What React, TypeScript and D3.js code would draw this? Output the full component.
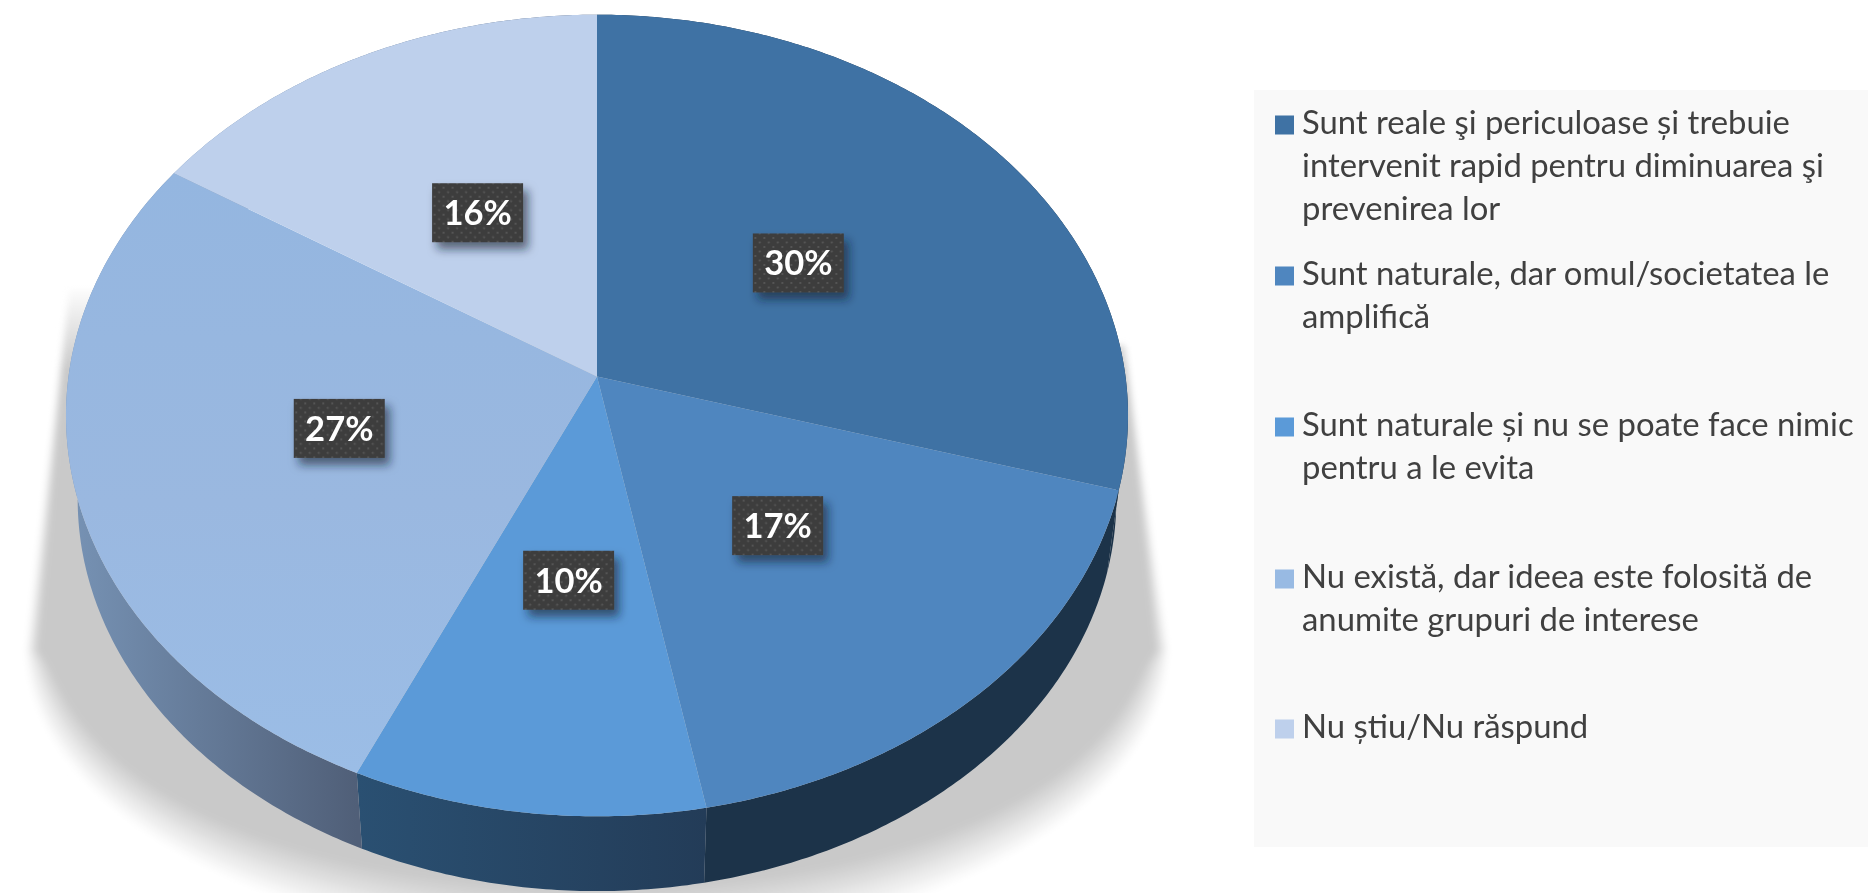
import React from "react";
import * as d3 from "d3";

const width = 1868;
const height = 893;

const categories = [
  ["Sunt reale şi periculoase și trebuie", "intervenit rapid pentru diminuarea şi", "prevenirea lor"],
  ["Sunt naturale, dar omul/societatea le", "amplifică"],
  ["Sunt naturale și nu se poate face nimic", "pentru a le evita"],
  ["Nu există, dar ideea este folosită de", "anumite grupuri de interese"],
  ["Nu știu/Nu răspund"],
];
const values = [29.5, 17.5, 9.8, 27.25, 15.95];
const labels = ["30%", "17%", "10%", "27%", "16%"];
const colors = ["#3f72a4", "#4f86bf", "#5b9ad8", "url(#face3)", "#bed0ec"];
const swatches = ["#3f72a4", "#4f86bf", "#5b9ad8", "#98bae3", "#bed0ec"];
const sideFrom = ["#1c3349", "#1c3349", "#2a5072", "#7793b5", "#7793b5"];
const sideTo = ["#1c3349", "#1c3349", "#233c58", "#505f78", "#505f78"];
const legendBaselines = [134, 285, 436, 588, 738];

// disc seen in perspective, k is the tilt foreshortening
const cx = 597;
const cy = 376.5;
const rx = 528.5;
const ry = 397;
const k = 0.0973;

const project = (a: number, r = 1, f = 1, y0 = cy) => {
  const X = Math.sin(a) * r;
  const Y = -Math.cos(a) * r;
  const s = 1 / (1 - k * Y);
  return [cx + rx * X * s * f, y0 + ry * Y * s * f] as [number, number];
};

const bottomY = 461;
const bottomF = 0.978;

const arcAngles = (a0: number, a1: number) => {
  const n = Math.max(2, Math.ceil((a1 - a0) / 0.01));
  return d3.range(n + 1).map((i) => a0 + ((a1 - a0) * i) / n);
};

const line = d3.line().curve(d3.curveLinear);
const slices = d3.pie<number>().sort(null).startAngle(0).endAngle(2 * Math.PI)(values);

// floor shadow: stacked grey bands, the fade is narrow at the sides and wide at the front
const shadowLayers = 30;
const shadowGrey = d3.interpolateRgb("#ffffff", "#c9c9c9");
const shadowOutline = (l: number) => {
  const pts = d3.range(0, 181, 3).map((d) => {
    const t = (d * Math.PI) / 180;
    const fade = Math.pow(Math.sin(t), 0.6);
    const a = 572 - l * (14 + 55 * fade);
    const b = 300 - l * 62 * fade;
    return [cx - a * Math.cos(t), 650 + b * Math.sin(t)] as [number, number];
  });
  return line([[cx, 285], [68 + l * 3, 285], ...pts, [1126 - l * 3, 345], [cx, 345]]) + "Z";
};

export default function App() {
  return (
    <svg
      width={width}
      height={height}
      style={{ position: "fixed", left: 0, top: 0, background: "#fff" }}
    >
      <defs>
        <filter id="boxShadow" x="-30%" y="-30%" width="170%" height="170%">
          <feDropShadow dx="5" dy="7" stdDeviation="5" floodColor="#0a1a2a" floodOpacity="0.6" />
        </filter>
        <filter id="soft" x="-5%" y="-5%" width="110%" height="110%">
          <feGaussianBlur stdDeviation="0.5" />
        </filter>
        <filter id="shadowSoft" x="-5%" y="-5%" width="110%" height="110%">
          <feGaussianBlur stdDeviation="3" />
        </filter>
        <pattern id="dots" width="9" height="9" patternUnits="userSpaceOnUse">
          <rect width="9" height="9" fill="#3d3d3d" />
          <circle cx="2" cy="2" r="1" fill="#5c5c5c" />
          <circle cx="6.5" cy="6.5" r="1" fill="#5c5c5c" />
        </pattern>
        <linearGradient id="face3" x1="0" x2="0" y1="0" y2="1">
          <stop offset="0%" stopColor="#94b6e0" />
          <stop offset="55%" stopColor="#9ab8e0" />
          <stop offset="100%" stopColor="#9bbde6" />
        </linearGradient>
        <linearGradient id="shadowFade" gradientUnits="userSpaceOnUse" x1="0" x2="0" y1="285" y2="370">
          <stop offset="0%" stopColor="#000" />
          <stop offset="100%" stopColor="#fff" />
        </linearGradient>
        <mask id="shadowMask" maskUnits="userSpaceOnUse" x="0" y="0" width={width} height={height}>
          <rect width={width} height={height} fill="url(#shadowFade)" />
        </mask>
        {slices.map((s, i) => {
          const xs = arcAngles(s.startAngle, s.endAngle).map((a) => project(a)[0]);
          return (
            <linearGradient
              key={i}
              id={`side${i}`}
              gradientUnits="userSpaceOnUse"
              x1={d3.min(xs)}
              x2={d3.max(xs)}
              y1={0}
              y2={0}
            >
              <stop offset="0%" stopColor={sideFrom[i]} />
              <stop offset="100%" stopColor={sideTo[i]} />
            </linearGradient>
          );
        })}
      </defs>

      <g mask="url(#shadowMask)">
        <g filter="url(#shadowSoft)">
          {d3.range(shadowLayers).map((l) => {
            const p = l / (shadowLayers - 1);
            return <path key={l} d={shadowOutline(p)} fill={shadowGrey(p)} />;
          })}
        </g>
      </g>

      {/* legend panel */}
      <rect x={1254} y={90} width={614} height={757} fill="#f9f9f9" />

      {/* side wall */}
      {slices.map((s, i) => {
        const angles = arcAngles(s.startAngle, s.endAngle);
        const top = angles.map((a) => project(a));
        const bottom = angles.map((a) => project(a, 1, bottomF, bottomY)).reverse();
        return <path key={i} d={line([...top, ...bottom]) + "Z"} fill={`url(#side${i})`} />;
      })}

      {/* top face */}
      {slices.map((s, i) => {
        const top = arcAngles(s.startAngle, s.endAngle).map((a) => project(a));
        return <path key={i} d={line([[cx, cy], ...top]) + "Z"} fill={colors[i]} />;
      })}

      {/* value labels */}
      {slices.map((s, i) => {
        const [x, y] = project((s.startAngle + s.endAngle) / 2, 0.49);
        const nudgeX = i === 3 ? -6 : i === 2 ? 4 : 0;
        const nudgeY = i === 3 ? -4 : i === 2 ? 1 : 0;
        return (
          <g key={i} transform={`translate(${x + nudgeX},${y + nudgeY})`}>
            <rect x={-45.5} y={-29.5} width={91} height={59} fill="url(#dots)" filter="url(#boxShadow)" />
            <text
              textAnchor="middle"
              dy="0.36em"
              fill="#fff"
              fontFamily="Lato"
              fontWeight={700}
              fontSize={34.5}
              filter="url(#soft)"
            >
              {labels[i]}
            </text>
          </g>
        );
      })}

      {/* legend */}
      {categories.map((lines, i) => (
        <g key={i}>
          <rect x={1275} y={legendBaselines[i] - 18.5} width={19} height={19} fill={swatches[i]} />
          <text fontFamily="Lato" fontSize={32.85} fill="#404040" filter="url(#soft)">
            {lines.map((t, j) => (
              <tspan key={j} x={1302} y={legendBaselines[i] + j * 43}>
                {t}
              </tspan>
            ))}
          </text>
        </g>
      ))}
    </svg>
  );
}
